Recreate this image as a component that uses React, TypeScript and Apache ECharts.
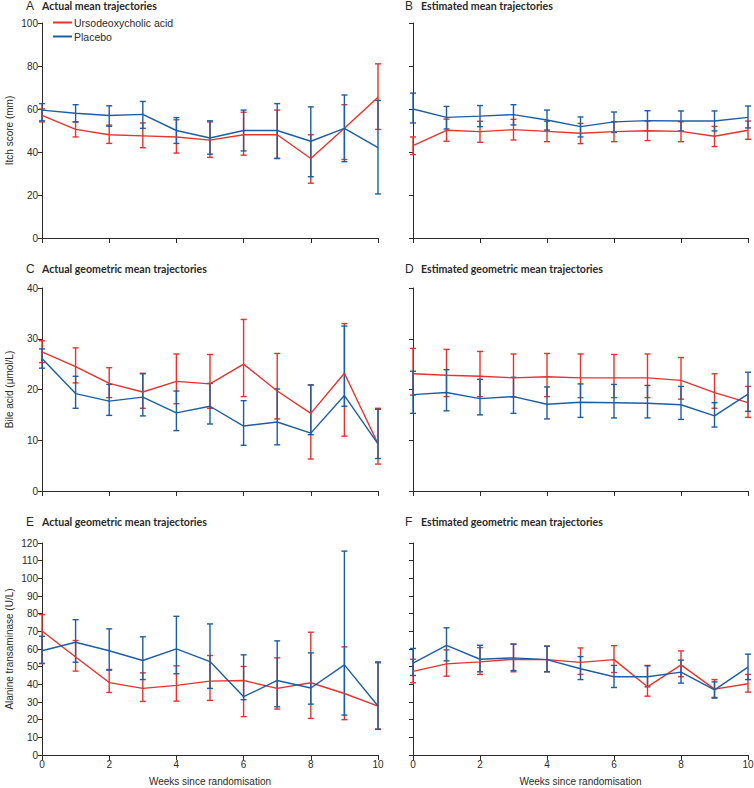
import React, { useEffect, useRef } from 'react';
import * as echarts from 'echarts';

const weeks = [0, 1, 2, 3, 4, 5, 6, 7, 8, 9, 10];
const seriesNames = ['Ursodeoxycholic acid', 'Placebo'];
const panelLetters = ['A', 'B', 'C', 'D', 'E', 'F'];
const panelTitles = [
  'Actual mean trajectories',
  'Estimated mean trajectories',
  'Actual geometric mean trajectories',
  'Estimated geometric mean trajectories',
  'Actual geometric mean trajectories',
  'Estimated geometric mean trajectories',
];
const yAxisNames = ['Itch score (mm)', 'Bile acid (µmol/L)', 'Alanine transaminase (U/L)'];
const xAxisName = 'Weeks since randomisation';

// A: itch, actual means
const aUdcaMean = [57, 50.5, 48, 47.5, 47, 45.5, 48, 48, 37, 51, 65.5];
const aUdcaLo = [54, 47, 44, 42, 39.5, 37.5, 38.5, 37, 25.5, 36.5, 50.5];
const aUdcaHi = [60, 54, 52.5, 53.5, 55, 54, 58.5, 59.5, 48, 62, 81];
const aPlacMean = [59.5, 58, 57, 57.5, 50, 46.5, 50, 50, 45, 51, 42];
const aPlacLo = [54.5, 54, 52, 51, 44, 39, 40.5, 37, 28.5, 35.5, 20.5];
const aPlacHi = [62.5, 62, 61.5, 63.5, 56, 54.5, 59.5, 62.5, 61, 66.5, 64];

// B: itch, estimated means
const bUdcaMean = [43, 50.1, 49.5, 50.4, 49.6, 48.7, 49.5, 49.9, 49.6, 47.3, 50.1];
const bUdcaLo = [38.8, 45, 44.5, 45.6, 44.8, 43.9, 44.8, 45.3, 44.8, 42.5, 45.9];
const bUdcaHi = [47, 55.3, 54.3, 55.2, 54.3, 53.3, 54.1, 54.4, 54.1, 51.9, 54.4];
const bPlacMean = [60, 56.1, 56.7, 57.4, 54.9, 51.8, 54, 54.6, 54.4, 54.4, 56.1];
const bPlacLo = [53.5, 50.7, 51.8, 52.6, 50.2, 47, 49.1, 49.9, 49.8, 49.8, 51.2];
const bPlacHi = [67.4, 61.2, 61.6, 62, 59.5, 56.3, 58.6, 59.2, 59.1, 59.1, 61.4];

// C: bile acid, actual geometric means
const cUdcaMean = [27.4, 24.5, 21.2, 19.5, 21.6, 21.1, 25, 19.7, 15.3, 23.2, 9.3];
const cUdcaLo = [25.3, 21.3, 18.4, 16.3, 17.2, 16.3, 18.6, 14.2, 6.3, 10.8, 5.3];
const cUdcaHi = [29.6, 28.2, 24.3, 23.2, 27, 26.9, 33.8, 27.1, 20.9, 33, 16.3];
const cPlacMean = [26.1, 19.2, 17.7, 18.5, 15.4, 16.7, 12.8, 13.6, 11.4, 18.8, 9.3];
const cPlacLo = [24.2, 16.3, 14.9, 14.8, 11.9, 13.2, 9, 9.1, 11.1, 16.7, 6.4];
const cPlacHi = [28, 22.6, 21, 23.1, 19.7, 21.2, 17.8, 20.1, 20.9, 32.5, 16.1];

// D: bile acid, estimated geometric means
const dUdcaMean = [23.1, 22.8, 22.6, 22.3, 22.5, 22.3, 22.3, 22.3, 21.8, 19.4, 17.4];
const dUdcaLo = [18.9, 18.6, 18.6, 18.5, 18.6, 18.4, 18.4, 18.4, 18.1, 16.3, 14.5];
const dUdcaHi = [28.1, 27.9, 27.5, 27, 27.1, 27, 26.9, 27, 26.3, 23.1, 20.6];
const dPlacMean = [19, 19.4, 18.2, 18.6, 17.1, 17.5, 17.4, 17.3, 17, 14.8, 19.1];
const dPlacLo = [15.3, 15.8, 15, 15.3, 14.2, 14.5, 14.4, 14.4, 14.1, 12.6, 15.7];
const dPlacHi = [23.6, 23.9, 22, 22.4, 20.5, 21.1, 21, 20.8, 20.6, 17.4, 23.4];

// E: ALT, actual geometric means
const eUdcaMean = [70.2, 55.5, 41, 37.7, 39.4, 41.8, 42.2, 37.7, 40.9, 34.8, 27.7];
const eUdcaLo = [51.8, 47.5, 35.4, 30.3, 30.5, 30.9, 21.7, 26, 20.7, 20, 14.7];
const eUdcaHi = [79.5, 64.8, 48.4, 46.5, 50.5, 56.3, 50.1, 55, 69.5, 61.2, 52.2];
const ePlacMean = [59, 63.8, 59, 53.5, 60.1, 52.9, 33, 42.2, 37.9, 51, 27.7];
const ePlacLo = [51.8, 52.5, 48, 42.7, 46, 37.7, 31.3, 27.3, 28.8, 22.6, 14.5];
const ePlacHi = [67.2, 76.6, 71.4, 66.9, 78.5, 74.2, 56.7, 64.6, 57.8, 115.4, 52.7];

// F: ALT, estimated geometric means
const fUdcaMean = [47.3, 51.6, 52.7, 54.2, 54, 52.4, 54, 38.6, 51, 37.3, 40.3];
const fUdcaLo = [40.9, 44.6, 45.6, 47.1, 47.1, 45.6, 46.7, 33.3, 44.3, 32.6, 35.6];
const fUdcaHi = [54.2, 59.5, 60.8, 62.7, 61.6, 60.6, 61.9, 50.7, 58.9, 42.7, 45.6];
const fPlacMean = [52, 62, 54.2, 55, 54, 48.8, 44.3, 44.3, 46.9, 36.9, 49.7];
const fPlacLo = [45, 53.3, 47.1, 47.8, 47.1, 42.7, 38.2, 38.6, 40.7, 32.2, 42.7];
const fPlacHi = [60.3, 72, 62.1, 62.8, 61.6, 55.7, 50.7, 50.5, 53.7, 41.4, 57.1];

const yMax = [100, 40, 120];
const yInterval = [20, 10, 10];

const RED = '#e8322c';
const BLUE = '#1c5da6';
const INK = '#2b2a29';
const FONT = "'Liberation Sans', Arial, sans-serif";
const TITLE_FONT = "Lato, 'Liberation Sans', sans-serif";

const panels = [
  { udca: [aUdcaMean, aUdcaLo, aUdcaHi], plac: [aPlacMean, aPlacLo, aPlacHi] },
  { udca: [bUdcaMean, bUdcaLo, bUdcaHi], plac: [bPlacMean, bPlacLo, bPlacHi] },
  { udca: [cUdcaMean, cUdcaLo, cUdcaHi], plac: [cPlacMean, cPlacLo, cPlacHi] },
  { udca: [dUdcaMean, dUdcaLo, dUdcaHi], plac: [dPlacMean, dPlacLo, dPlacHi] },
  { udca: [eUdcaMean, eUdcaLo, eUdcaHi], plac: [ePlacMean, ePlacLo, ePlacHi] },
  { udca: [fUdcaMean, fUdcaLo, fUdcaHi], plac: [fPlacMean, fPlacLo, fPlacHi] },
];

const errRender = (color: string) => (params: any, api: any) => {
  const x = api.value(0);
  const lo = api.coord([x, api.value(1)]);
  const hi = api.coord([x, api.value(2)]);
  const hw = 3;
  const style = { stroke: color, lineWidth: 1.4 };
  return {
    type: 'group',
    children: [
      { type: 'line', shape: { x1: lo[0], y1: lo[1], x2: hi[0], y2: hi[1] }, style },
      { type: 'line', shape: { x1: hi[0] - hw, y1: hi[1], x2: hi[0] + hw, y2: hi[1] }, style },
      { type: 'line', shape: { x1: lo[0] - hw, y1: lo[1], x2: lo[0] + hw, y2: lo[1] }, style },
    ],
  };
};

export default function App() {
  const ref = useRef<HTMLDivElement>(null);
  useEffect(() => {
    if (!ref.current) return;
    const chart = echarts.init(ref.current, undefined, { renderer: 'svg' });

    const rowTop = [23, 288, 543];
    const rowHeight = [215, 203, 212];
    const grids: any[] = [];
    const xAxes: any[] = [];
    const yAxes: any[] = [];
    const titles: any[] = [];
    const series: any[] = [];
    const titleTop = [0, 263, 516];

    for (let i = 0; i < 6; i++) {
      const row = Math.floor(i / 2);
      const col = i % 2;
      grids.push({
        left: col === 0 ? 42 : 413,
        right: col === 0 ? 376 : 6,
        top: rowTop[row],
        height: rowHeight[row],
        containLabel: false,
        outerBoundsMode: 'none',
      });
      xAxes.push({
        type: 'value',
        gridIndex: i,
        min: 0,
        max: 10,
        interval: 2,
        name: row === 2 ? xAxisName : '',
        nameLocation: 'middle',
        nameGap: 21,
        nameTextStyle: { fontFamily: FONT, fontSize: 10, color: INK },
        axisLine: { show: true, onZero: false, lineStyle: { color: INK, width: 1 } },
        axisTick: { show: true, length: 5, lineStyle: { color: INK } },
        axisLabel: { show: row === 2, fontFamily: FONT, fontSize: 10, color: INK, margin: 4 },
        splitLine: { show: false },
      });
      yAxes.push({
        type: 'value',
        gridIndex: i,
        min: 0,
        max: yMax[row],
        interval: yInterval[row],
        name: col === 0 ? yAxisNames[row] : '',
        nameLocation: 'middle',
        nameGap: 28,
        nameRotate: 90,
        nameTextStyle: { fontFamily: FONT, fontSize: 10, color: INK },
        axisLine: { show: true, lineStyle: { color: INK, width: 1 } },
        axisTick: { show: true, length: 4, lineStyle: { color: INK } },
        axisLabel: { show: col === 0, fontFamily: FONT, fontSize: 10, color: INK, margin: 4 },
        splitLine: { show: false },
      });
      titles.push({
        left: col === 0 ? 26 : 405,
        top: titleTop[row],
        padding: 0,
        text: `{l|${panelLetters[i]}}{t|${panelTitles[i]}}`,
        textStyle: {
          rich: {
            l: { fontFamily: FONT, fontSize: 12, fontWeight: 'normal', color: INK, width: 16 },
            t: { fontFamily: TITLE_FONT, fontSize: 10.6, fontWeight: 'bold', color: INK },
          },
        },
      });
      const groups = [
        { name: seriesNames[0], color: RED, d: panels[i].udca },
        { name: seriesNames[1], color: BLUE, d: panels[i].plac },
      ];
      for (const g of groups) {
        series.push({
          type: 'line',
          name: g.name,
          xAxisIndex: i,
          yAxisIndex: i,
          data: weeks.map((w, k) => [w, g.d[0][k]]),
          showSymbol: false,
          symbol: 'none',
          clip: false,
          lineStyle: { color: g.color, width: 1.4 },
          itemStyle: { color: g.color },
          z: 3,
        });
        series.push({
          type: 'custom',
          name: g.name,
          xAxisIndex: i,
          yAxisIndex: i,
          data: weeks.map((w, k) => [w, g.d[1][k], g.d[2][k]]),
          encode: { x: 0, y: [1, 2] },
          renderItem: errRender(g.color),
          itemStyle: { color: g.color },
          clip: false,
          z: 2,
        });
      }
    }

    chart.setOption({
      animation: false,
      backgroundColor: '#ffffff',
      title: titles,
      legend: {
        data: seriesNames,
        orient: 'vertical',
        left: 48,
        top: 12,
        itemWidth: 19,
        itemHeight: 2,
        itemGap: 3,
        icon: 'rect',
        textStyle: { fontFamily: FONT, fontSize: 10.5, color: INK, padding: [0, 0, 0, -3] },
      },
      grid: grids,
      xAxis: xAxes,
      yAxis: yAxes,
      series,
    });
    return () => chart.dispose();
  }, []);
  return <div ref={ref} style={{ position: 'absolute', left: 0, top: 0, width: 754, height: 788 }} />;
}
